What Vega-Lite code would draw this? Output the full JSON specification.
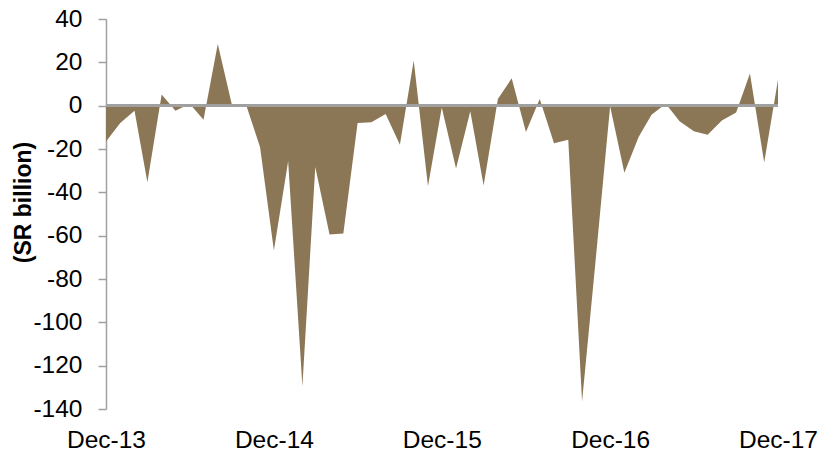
{
  "$schema": "https://vega.github.io/schema/vega-lite/v6.json",
  "width": 672,
  "height": 390,
  "autosize": {"type": "none"},
  "padding": {"left": 106, "top": 19, "right": 51, "bottom": 46},
  "background": "white",
  "config": {"view": {"stroke": null}, "font": "Liberation Sans"},
  "data": {
    "values": [
      {"month": "2013-12-01", "value": -16.5},
      {"month": "2014-01-01", "value": -8},
      {"month": "2014-02-01", "value": -2.3},
      {"month": "2014-03-01", "value": -35.4},
      {"month": "2014-04-01", "value": 5.1},
      {"month": "2014-05-01", "value": -2.3},
      {"month": "2014-06-01", "value": 0.9},
      {"month": "2014-07-01", "value": -6.5},
      {"month": "2014-08-01", "value": 28.5},
      {"month": "2014-09-01", "value": 0.2},
      {"month": "2014-10-01", "value": 0.8},
      {"month": "2014-11-01", "value": -19.2},
      {"month": "2014-12-01", "value": -66.8},
      {"month": "2015-01-01", "value": -25.7},
      {"month": "2015-02-01", "value": -129.5},
      {"month": "2015-03-01", "value": -28.3},
      {"month": "2015-04-01", "value": -59.5},
      {"month": "2015-05-01", "value": -59},
      {"month": "2015-06-01", "value": -8},
      {"month": "2015-07-01", "value": -7.7},
      {"month": "2015-08-01", "value": -3.8},
      {"month": "2015-09-01", "value": -18},
      {"month": "2015-10-01", "value": 20.9},
      {"month": "2015-11-01", "value": -37.2},
      {"month": "2015-12-01", "value": -0.8},
      {"month": "2016-01-01", "value": -29},
      {"month": "2016-02-01", "value": -2.6},
      {"month": "2016-03-01", "value": -36.8},
      {"month": "2016-04-01", "value": 3.1},
      {"month": "2016-05-01", "value": 12.6},
      {"month": "2016-06-01", "value": -12.2},
      {"month": "2016-07-01", "value": 3.1},
      {"month": "2016-08-01", "value": -17.3},
      {"month": "2016-09-01", "value": -15.7},
      {"month": "2016-10-01", "value": -136.5},
      {"month": "2016-11-01", "value": -68},
      {"month": "2016-12-01", "value": -0.3},
      {"month": "2017-01-01", "value": -31},
      {"month": "2017-02-01", "value": -14.5},
      {"month": "2017-03-01", "value": -4.2},
      {"month": "2017-04-01", "value": 0.9},
      {"month": "2017-05-01", "value": -7.2},
      {"month": "2017-06-01", "value": -11.8},
      {"month": "2017-07-01", "value": -13.4},
      {"month": "2017-08-01", "value": -6.8},
      {"month": "2017-09-01", "value": -3.1},
      {"month": "2017-10-01", "value": 14.8},
      {"month": "2017-11-01", "value": -26.2},
      {"month": "2017-12-01", "value": 12.0}
    ]
  },
  "layer": [
    {
      "mark": {"type": "area", "color": "#8B7755", "interpolate": "linear", "opacity": 1},
      "encoding": {
        "x": {
          "field": "month",
          "type": "temporal",
          "scale": {
            "type": "utc",
            "nice": false,
            "domain": [
              {"year": 2013, "month": 12, "date": 1, "utc": true},
              {"year": 2017, "month": 12, "date": 1, "utc": true}
            ]
          },
          "axis": {
            "orient": "bottom",
            "title": null,
            "grid": false,
            "domain": false,
            "ticks": false,
            "values": [
              {"year": 2013, "month": 12, "date": 1, "utc": true},
              {"year": 2014, "month": 12, "date": 1, "utc": true},
              {"year": 2015, "month": 12, "date": 1, "utc": true},
              {"year": 2016, "month": 12, "date": 1, "utc": true},
              {"year": 2017, "month": 12, "date": 1, "utc": true}
            ],
            "labelExpr": "utcFormat(datum.value, '%b-%y')",
            "labelFontSize": 24.5,
            "labelColor": "#000000",
            "labelPadding": 19,
            "labelFlush": false,
            "labelOverlap": false
          }
        },
        "y": {
          "field": "value",
          "type": "quantitative",
          "stack": null,
          "scale": {"domain": [-140, 40], "nice": false, "zero": true},
          "axis": {
            "values": [-140, -120, -100, -80, -60, -40, -20, 0, 20, 40],
            "labelExpr": "'' + datum.value",
            "grid": false,
            "domainColor": "#A0A0A0",
            "domainWidth": 1.5,
            "tickColor": "#A0A0A0",
            "tickWidth": 1.5,
            "tickSize": 8,
            "labelFontSize": 24.5,
            "labelColor": "#000000",
            "labelPadding": 16,
            "title": "(SR billion)",
            "titleFontSize": 23,
            "titleFontWeight": "bold",
            "titleColor": "#000000",
            "titleAngle": -90,
            "titleAlign": "center",
            "titleBaseline": "middle",
            "titleX": -83,
            "titleY": 183
          }
        }
      }
    },
    {
      "mark": {"type": "rule", "color": "#A0A0A0", "strokeWidth": 2},
      "encoding": {"y": {"datum": 0, "type": "quantitative"}}
    }
  ]
}
